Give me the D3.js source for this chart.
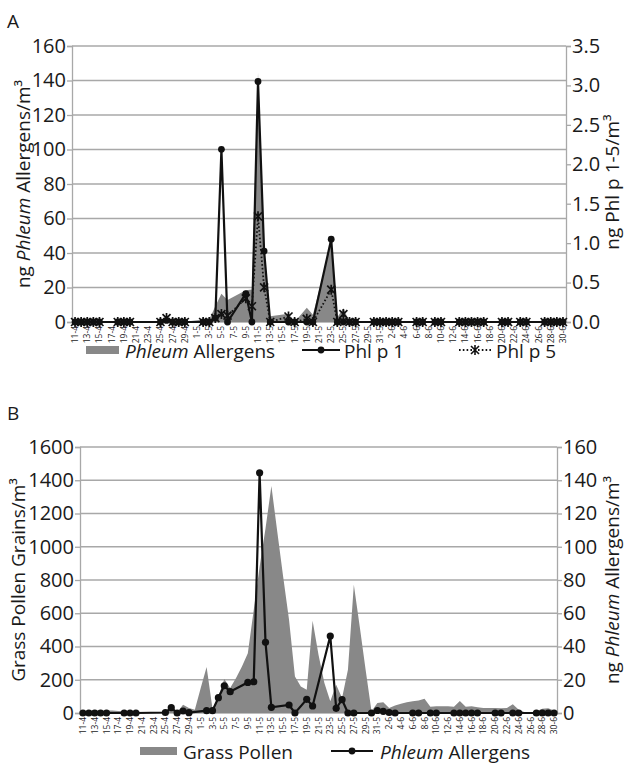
<!DOCTYPE html>
<html>
<head>
<meta charset="utf-8">
<script src="https://cdn.jsdelivr.net/npm/d3@7"></script>
<style>
  html, body { margin: 0; padding: 0; background: #fff; }
  svg text { font-family: "Open Sans", "Noto Sans", sans-serif; fill: #1a1a1a; }
</style>
</head>
<body>
<svg id="chart" width="626" height="774"></svg>
<script>
// ---------- DATA ----------
const days = ["11-4","12-4","13-4","14-4","15-4","16-4","17-4","18-4","19-4","20-4","21-4","22-4","23-4","24-4","25-4","26-4","27-4","28-4","29-4","30-4",
  "1-5","2-5","3-5","4-5","5-5","6-5","7-5","8-5","9-5","10-5","11-5","12-5","13-5","14-5","15-5","16-5","17-5","18-5","19-5","20-5","21-5","22-5","23-5","24-5","25-5","26-5","27-5","28-5","29-5","30-5","31-5",
  "1-6","2-6","3-6","4-6","5-6","6-6","7-6","8-6","9-6","10-6","11-6","12-6","13-6","14-6","15-6","16-6","17-6","18-6","19-6","20-6","21-6","22-6","23-6","24-6","25-6","26-6","27-6","28-6","29-6","30-6"];

const tickLabels = ["11-4","13-4","15-4","17-4","19-4","21-4","23-4","25-4","27-4","29-4",
  "1-5","3-5","5-5","7-5","9-5","11-5","13-5","15-5","17-5","19-5","21-5","23-5","25-5","27-5","29-5","31-5",
  "2-6","4-6","6-6","8-6","10-6","12-6","14-6","16-6","18-6","20-6","22-6","24-6","26-6","28-6","30-6"];

// sampling days of the allergen measurements
const sampleDays = ["11-4","12-4","13-4","14-4","15-4","18-4","19-4","20-4","25-4","26-4","27-4","28-4","29-4",
  "2-5","3-5","4-5","5-5","6-5","9-5","10-5","11-5","12-5","13-5","16-5","17-5","19-5","20-5","23-5","24-5","25-5","26-5","27-5","30-5","31-5",
  "1-6","2-6","3-6","6-6","7-6","9-6","10-6","13-6","14-6","15-6","16-6","17-6","20-6","21-6","23-6","24-6","27-6","28-6","29-6","30-6"];

// ng Phleum allergens / m3
const phleumAllergens = [0,0,0,0,0,0,0,0,0.3,3.2,0,1.2,0.2,
  1.4,1.4,9.2,16.4,12.8,18.4,18.8,144.5,42.5,3.4,4.8,0,8.2,4.2,46.3,2.8,8.0,0,0,0,1.5,
  1.0,0.3,0,0,0,0,0,0,0,0,0,0,0,0,0,0,0,0,0,0];

// ng Phl p 1 / m3
const phlp1 = [0,0,0,0,0,0,0,0,0,0.02,0,0,0,
  0,0,0.05,2.19,0,0.36,0,3.05,0.9,0,0,0,0,0,1.05,0,0,0,0,0,0,
  0,0,0,0,0,0,0,0,0,0,0,0,0,0,0,0,0,0,0,0];

// ng Phl p 5 / m3
const phlp5 = [0,0,0,0,0,0,0,0,0,0.05,0,0,0,
  0,0,0.05,0.1,0.08,0.3,0.2,1.34,0.44,0,0.07,0,0.04,0,0.41,0,0.1,0,0,0,0,
  0,0,0,0,0,0,0,0,0,0,0,0,0,0,0,0,0,0,0,0];

// grass pollen grains / m3 (daily)
const grassPollen = [5,15,15,14,15,15,12,10,10,8,0,0,0,0,10,20,5,50,30,20,
  150,277,25,100,204,150,210,280,360,620,880,1110,1365,1090,820,560,220,160,140,555,350,180,70,170,90,260,772,520,260,10,60,
  65,30,45,55,65,70,75,86,38,40,40,40,38,72,38,40,35,30,30,30,28,30,52,20,5,0,10,25,28,15];

const yTicksA = [0,20,40,60,80,100,120,140,160];
const yTicksAR = [0,0.5,1.0,1.5,2.0,2.5,3.0,3.5];
const yTicksB = [0,200,400,600,800,1000,1200,1400,1600];
const yTicksBR = [0,20,40,60,80,100,120,140,160];

// ---------- DRAW ----------
const svg = d3.select("#chart");
const GRID = "#a8a8a8";
const FILL = "#888888";

function panel(cfg) {
  const g = svg.append("g");
  const x = d3.scaleBand().domain(days).range([cfg.left, cfg.right]);
  const cx = d => x(d) + x.bandwidth() / 2;
  const yL = d3.scaleLinear().domain(cfg.lDomain).range([cfg.bottom, cfg.top]);
  const yR = d3.scaleLinear().domain(cfg.rDomain).range([cfg.bottom, cfg.top]);

  // gridlines
  g.append("g").selectAll("line").data(cfg.lTicks).join("line")
    .attr("x1", cfg.left).attr("x2", cfg.right)
    .attr("y1", d => yL(d)).attr("y2", d => yL(d))
    .attr("stroke", GRID).attr("stroke-width", 1.3);

  // axes
  const la = g.append("g").attr("transform", `translate(${cfg.left},0)`)
    .call(d3.axisLeft(yL).tickValues(cfg.lTicks).tickSize(5).tickPadding(1).tickFormat(d3.format("d")));
  const ra = g.append("g").attr("transform", `translate(${cfg.right},0)`)
    .call(d3.axisRight(yR).tickValues(cfg.rTicks).tickSize(5).tickPadding(1).tickFormat(cfg.rFormat));
  [la, ra].forEach(a => {
    a.select(".domain").attr("stroke", GRID).attr("stroke-width", 1.3);
    a.selectAll(".tick line").attr("stroke", GRID).attr("stroke-width", 1.3);
    a.selectAll(".tick text").attr("font-size", 20).attr("font-family", "Open Sans").attr("fill", "#1a1a1a");
  });

  // x labels
  g.append("g").selectAll("text").data(tickLabels).join("text")
    .attr("transform", d => `translate(${cx(d) + 3},${cfg.bottom + 4}) rotate(-90)`)
    .attr("text-anchor", "end").attr("font-size", 8.5).text(d => d);

  return { g, x, cx, yL, yR };
}

// ----- Panel A -----
const A = panel({ left: 72, right: 566, top: 46, bottom: 322,
  lDomain: [0,160], rDomain: [0,3.5], lTicks: yTicksA, rTicks: yTicksAR, rFormat: d3.format(".1f") });

A.g.append("path").datum(sampleDays.map((d,i)=>[d, phleumAllergens[i]]))
  .attr("fill", FILL)
  .attr("d", d3.area().x(d => A.cx(d[0])).y0(A.yL(0)).y1(d => A.yL(d[1])));

const p5A = sampleDays.map((d,i)=>[d, phlp5[i]]);
const p1A = sampleDays.map((d,i)=>[d, phlp1[i]]);

A.g.append("path").datum(p5A).attr("fill","none").attr("stroke","#111").attr("stroke-width",1.8)
  .attr("stroke-dasharray","1.6,2.2")
  .attr("d", d3.line().x(d => A.cx(d[0])).y(d => A.yR(d[1])));
A.g.append("path").datum(p1A).attr("fill","none").attr("stroke","#111").attr("stroke-width",2.2)
  .attr("d", d3.line().x(d => A.cx(d[0])).y(d => A.yR(d[1])));

const starPath = "M-4,-4L4,4M-4,4L4,-4M0,-5L0,5";
A.g.append("g").selectAll("path").data(p5A).join("path")
  .attr("transform", d => `translate(${A.cx(d[0])},${A.yR(d[1])})`)
  .attr("d", starPath).attr("stroke","#111").attr("stroke-width",1.7).attr("fill","none");
A.g.append("g").selectAll("circle").data(p1A).join("circle")
  .attr("cx", d => A.cx(d[0])).attr("cy", d => A.yR(d[1])).attr("r", 3.4).attr("fill","#111");

// ----- Panel B -----
const B = panel({ left: 80, right: 557, top: 447, bottom: 713,
  lDomain: [0,1600], rDomain: [0,160], lTicks: yTicksB, rTicks: yTicksBR, rFormat: d3.format("d") });

B.g.insert("path", "g:nth-of-type(2)").datum(days.map((d,i)=>[d, grassPollen[i]]))
  .attr("fill", FILL)
  .attr("d", d3.area().x(d => B.cx(d[0])).y0(B.yL(0)).y1(d => B.yL(d[1])));

const paB = sampleDays.map((d,i)=>[d, phleumAllergens[i]]);
B.g.append("path").datum(paB).attr("fill","none").attr("stroke","#111").attr("stroke-width",2.2)
  .attr("d", d3.line().x(d => B.cx(d[0])).y(d => B.yR(d[1])));
B.g.append("g").selectAll("circle").data(paB).join("circle")
  .attr("cx", d => B.cx(d[0])).attr("cy", d => B.yR(d[1])).attr("r", 3.6).attr("fill","#111");

// ----- Panel letters -----
svg.append("text").attr("x", 7).attr("y", 28).attr("font-size", 19).text("A");
svg.append("text").attr("x", 7).attr("y", 420).attr("font-size", 19).text("B");

// ----- Axis titles -----
function vtitle(x, y, rot, parts) {
  const t = svg.append("text").attr("transform", `translate(${x},${y}) rotate(${rot})`)
    .attr("text-anchor", "middle").attr("font-size", 19);
  parts.forEach(p => t.append("tspan").attr("font-style", p[1] ? "italic" : "normal").text(p[0]));
}
vtitle(30, 184, -90, [["ng ",0],["Phleum",1],[" Allergens/m³",0]]);
vtitle(619, 182, -90, [["ng Phl p 1-5/m³",0]]);
vtitle(25, 580, -90, [["Grass Pollen Grains/m³",0]]);
vtitle(619, 580, -90, [["ng ",0],["Phleum",1],[" Allergens/m³",0]]);

// ----- Legends -----
const lg = svg.append("g");
// A
lg.append("rect").attr("x", 86).attr("y", 346).attr("width", 33).attr("height", 8).attr("fill", FILL);
const tA1 = lg.append("text").attr("x", 125).attr("y", 358).attr("font-size", 19);
tA1.append("tspan").attr("font-style","italic").text("Phleum");
tA1.append("tspan").text(" Allergens");
lg.append("line").attr("x1", 302).attr("x2", 340).attr("y1", 350).attr("y2", 350).attr("stroke","#111").attr("stroke-width",2.2);
lg.append("circle").attr("cx", 321).attr("cy", 350).attr("r", 3.4).attr("fill","#111");
lg.append("text").attr("x", 344).attr("y", 358).attr("font-size", 19).text("Phl p 1");
lg.append("line").attr("x1", 459).attr("x2", 492).attr("y1", 350).attr("y2", 350).attr("stroke","#111").attr("stroke-width",1.8).attr("stroke-dasharray","1.6,2.2");
lg.append("path").attr("transform","translate(475,350)").attr("d", starPath).attr("stroke","#111").attr("stroke-width",1.6);
lg.append("text").attr("x", 496).attr("y", 358).attr("font-size", 19).text("Phl p 5");
// B
lg.append("rect").attr("x", 140).attr("y", 747).attr("width", 37).attr("height", 8).attr("fill", FILL);
lg.append("text").attr("x", 183).attr("y", 759).attr("font-size", 19).text("Grass Pollen");
lg.append("line").attr("x1", 331).attr("x2", 373).attr("y1", 751).attr("y2", 751).attr("stroke","#111").attr("stroke-width",2.2);
lg.append("circle").attr("cx", 352).attr("cy", 751).attr("r", 3.4).attr("fill","#111");
const tB2 = lg.append("text").attr("x", 380).attr("y", 759).attr("font-size", 19);
tB2.append("tspan").attr("font-style","italic").text("Phleum");
tB2.append("tspan").text(" Allergens");
</script>
</body>
</html>
